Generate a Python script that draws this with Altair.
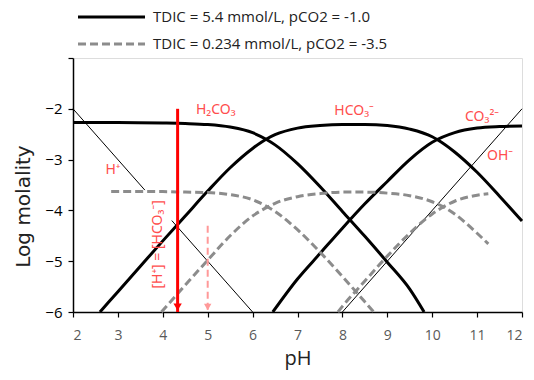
import altair as alt
import pandas as pd

# ---- values ----
# Black (TDIC = 5.4 mmol/L, pCO2 = -1.0)
h2co3_hi_ph = [2, 3, 4, 4.5, 5, 5.5, 6, 6.3, 6.5, 7, 7.5, 8, 8.5, 9, 9.5, 9.82]
h2co3_hi_y  = [-2.27, -2.27, -2.28, -2.29, -2.31, -2.36, -2.47, -2.6, -2.71, -3.08, -3.53, -4.02, -4.51, -5.02, -5.55, -6.0]
hco3_hi_ph = [2.6, 3, 3.5, 4, 4.5, 5, 5.5, 6, 6.3, 6.5, 7, 7.5, 8, 8.5, 9, 9.5, 10, 10.1, 10.5, 11, 11.5, 12]
hco3_hi_y  = [-6.0, -5.6, -5.1, -4.6, -4.11, -3.62, -3.16, -2.78, -2.6, -2.51, -2.38, -2.33, -2.31, -2.31, -2.33, -2.4, -2.55, -2.6, -2.85, -3.25, -3.72, -4.21]
co3_hi_ph = [6.45, 7, 7.5, 8, 8.5, 9, 9.5, 10, 10.5, 11, 11.5, 12]
co3_hi_y  = [-6.0, -5.35, -4.85, -4.35, -3.87, -3.43, -3.0, -2.66, -2.47, -2.38, -2.35, -2.34]

# Grey dashed (TDIC = 0.234 mmol/L, pCO2 = -3.5)
h2co3_lo_ph = [2.85, 3, 4, 4.5, 5, 5.5, 6, 6.5, 7, 7.5, 8, 8.5, 8.7]
h2co3_lo_y  = [-3.63, -3.63, -3.63, -3.64, -3.65, -3.69, -3.79, -4.02, -4.38, -4.82, -5.3, -5.8, -6.0]
hco3_lo_ph = [3.97, 4.5, 5, 5.5, 6, 6.34, 6.5, 7, 7.5, 8, 8.5, 9, 9.5, 10, 10.25, 10.5, 11, 11.25]
hco3_lo_y  = [-6.0, -5.47, -4.98, -4.5, -4.11, -3.93, -3.86, -3.73, -3.67, -3.64, -3.64, -3.66, -3.71, -3.83, -3.93, -4.07, -4.45, -4.66]
co3_lo_ph = [7.9, 8, 8.5, 9, 9.5, 10, 10.25, 10.5, 11, 11.25]
co3_lo_y  = [-6.0, -5.89, -5.39, -4.9, -4.45, -4.07, -3.93, -3.82, -3.7, -3.67]

# Thin lines: H+ (two pieces, interrupted by the label) and OH-
hplus_ph = [2, 3.6, 4.2, 6]
hplus_y  = [-2, -3.6, -4.2, -6]
hplus_piece = ["a", "a", "b", "b"]
oh_ph = [8, 12]
oh_y  = [-6, -2]

# Species labels
label_text = ["H₂CO₃", "HCO₃⁻", "CO₃²⁻", "OH⁻", "H⁺"]
label_ph   = [5.18, 8.26, 11.11, 11.51, 2.89]
label_y    = [-2.02, -2.04, -2.16, -2.92, -3.2]
rot_text = ["[H⁺] = [HCO₃⁻]"]
rot_ph = [3.89]
rot_y = [-4.67]

# Arrows
red_arrow_ph = [4.33]
red_arrow_top = [-2.0]
red_arrow_bottom = [-6.0]
pink_arrow_ph = [5.0]
pink_arrow_top = [-4.3]
pink_arrow_bottom = [-6.0]

legend_labels = ["TDIC = 5.4 mmol/L, pCO2 = -1.0", "TDIC = 0.234 mmol/L, pCO2 = -3.5"]

# ---- tables ----
def curves(pairs):
    rows = []
    for name, xs, ys in pairs:
        for x, y in zip(xs, ys):
            rows.append({"curve": name, "pH": x, "logm": y})
    return pd.DataFrame(rows)

black_df = curves([("h2co3", h2co3_hi_ph, h2co3_hi_y),
                   ("hco3", hco3_hi_ph, hco3_hi_y),
                   ("co3", co3_hi_ph, co3_hi_y)])
grey_df = curves([("h2co3", h2co3_lo_ph, h2co3_lo_y),
                  ("hco3", hco3_lo_ph, hco3_lo_y),
                  ("co3", co3_lo_ph, co3_lo_y)])
thin_df = pd.concat([
    pd.DataFrame({"curve": ["h_" + p for p in hplus_piece], "pH": hplus_ph, "logm": hplus_y}),
    pd.DataFrame({"curve": "oh", "pH": oh_ph, "logm": oh_y}),
])
labels_df = pd.DataFrame({"t": label_text, "pH": label_ph, "logm": label_y})
rot_df = pd.DataFrame({"t": rot_text, "pH": rot_ph, "logm": rot_y})
red_df = pd.DataFrame({"pH": red_arrow_ph, "top": red_arrow_top, "bottom": red_arrow_bottom})
pink_df = pd.DataFrame({"pH": pink_arrow_ph, "top": pink_arrow_top, "bottom": pink_arrow_bottom})

FONT = "Open Sans"
LABEL_RED = "#ff4d4d"

x_scale = alt.Scale(domain=[2, 12], nice=False, zero=False)
y_scale = alt.Scale(domain=[-6, -1], nice=False, zero=False)

x_enc = alt.X("pH:Q", scale=x_scale, axis=alt.Axis(
    title="pH", values=list(range(2, 13)), labelColor="#595959", labelFontSize=14,
    labelFont=FONT, titleFont=FONT, titleFontSize=20, titleFontWeight="normal",
    titleColor="#222222", tickColor="black", domainColor="black", domainWidth=1.5,
    tickWidth=1.2, tickSize=5, labelPadding=11, titlePadding=6, grid=False))
y_enc = alt.Y("logm:Q", scale=y_scale, axis=alt.Axis(
    title="Log molality", values=[-6, -5, -4, -3, -2, -1],
    labelExpr="datum.value == -1 ? '' : datum.label",
    labelColor="black", labelFontSize=15, labelFont=FONT, titleFont="DejaVu Sans",
    titleFontSize=20, titleFontWeight="normal", titleColor="#222222",
    titleX=-50, titleY=148, titleAlign="center", titleBaseline="middle", titleAngle=270,
    tickColor="black", domainColor="black", domainWidth=1.5, tickWidth=1.2,
    tickSize=5, labelPadding=6, grid=False))

thin = alt.Chart(thin_df).mark_line(color="black", strokeWidth=1).encode(
    x=x_enc, y=y_enc, detail="curve:N")
black = alt.Chart(black_df).mark_line(color="black", strokeWidth=3, interpolate="monotone").encode(
    x=x_enc, y=y_enc, detail="curve:N")
grey = alt.Chart(grey_df).mark_line(color="#8c8c8c", strokeWidth=3, strokeDash=[8, 4],
                                    interpolate="monotone").encode(
    x=x_enc, y=y_enc, detail="curve:N")

red_shaft = alt.Chart(red_df).mark_rule(color="#ff0000", strokeWidth=3).encode(
    x="pH:Q", y="top:Q", y2="bottom:Q")
red_head = alt.Chart(red_df).mark_point(shape="triangle-down", filled=True, size=70,
                                        color="#ff0000", opacity=1, yOffset=-5).encode(
    x="pH:Q", y="bottom:Q")
pink_shaft = alt.Chart(pink_df).mark_rule(color="#ff9999", strokeWidth=2, strokeDash=[7, 4]).encode(
    x="pH:Q", y="top:Q", y2="bottom:Q")
pink_head = alt.Chart(pink_df).mark_point(shape="triangle-down", filled=True, size=55,
                                          color="#ff9999", opacity=1, yOffset=-5).encode(
    x="pH:Q", y="bottom:Q")

labels = alt.Chart(labels_df).mark_text(font="Noto Sans", fontSize=14, color=LABEL_RED,
                                        align="center", baseline="middle").encode(
    x="pH:Q", y="logm:Q", text="t:N")
rot_label = alt.Chart(rot_df).mark_text(font="Noto Sans", fontSize=14, color=LABEL_RED,
                                        align="center", baseline="middle", angle=270).encode(
    x="pH:Q", y="logm:Q", text="t:N")

leg1_df = pd.DataFrame({"label": [legend_labels[0]]})
leg2_df = pd.DataFrame({"label": [legend_labels[1]]})
leg1_line = alt.Chart(leg1_df).mark_rule(color="black", strokeWidth=3).encode(
    x=alt.value(5), x2=alt.value(72), y=alt.value(-41))
leg1_text = alt.Chart(leg1_df).mark_text(font=FONT, fontSize=15, color="#222222",
                                         align="left", baseline="middle").encode(
    x=alt.value(80), y=alt.value(-41), text="label:N")
leg2_line = alt.Chart(leg2_df).mark_rule(color="#8c8c8c", strokeWidth=3, strokeDash=[8, 4]).encode(
    x=alt.value(5), x2=alt.value(72), y=alt.value(-14))
leg2_text = alt.Chart(leg2_df).mark_text(font=FONT, fontSize=15, color="#222222",
                                         align="left", baseline="middle").encode(
    x=alt.value(80), y=alt.value(-14), text="label:N")

chart = alt.layer(
    thin, black, grey, red_shaft, red_head, pink_shaft, pink_head, labels, rot_label,
    leg1_line, leg1_text, leg2_line, leg2_text
).properties(
    width=449, height=254,
    autosize=alt.AutoSizeParams(type="none"),
    padding={"left": 65, "top": 50, "right": 4, "bottom": 60},
).configure_view(stroke="black", strokeWidth=1.5).configure(background="white")

chart.save("out.html", embed_options={"renderer": "svg", "actions": False})
